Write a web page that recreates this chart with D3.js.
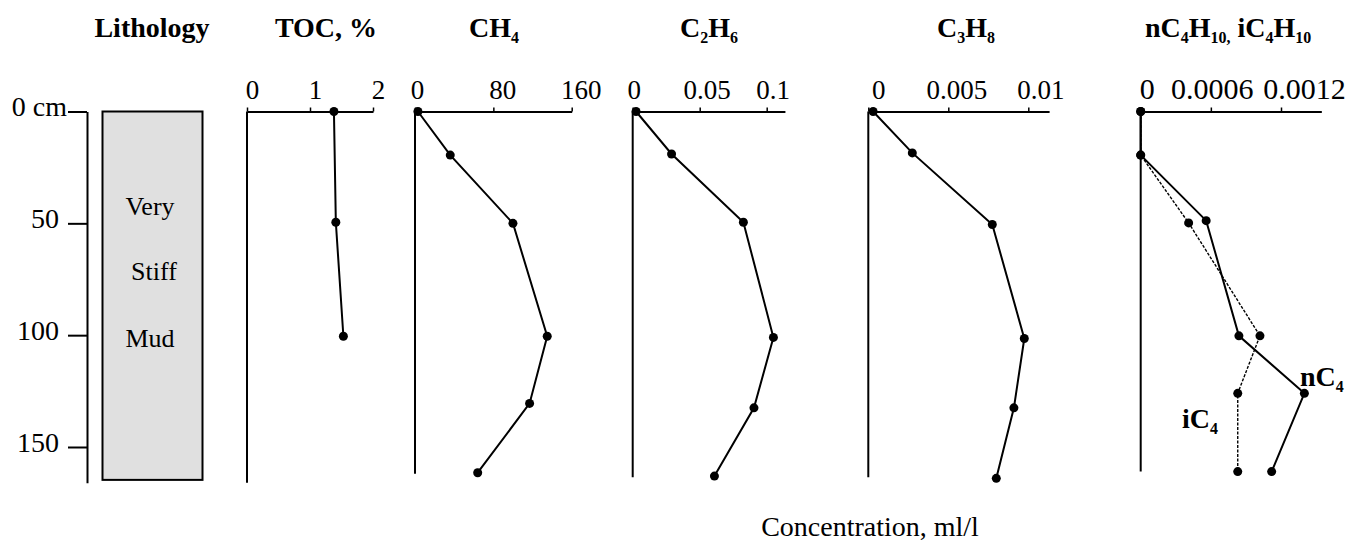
<!DOCTYPE html>
<html>
<head>
<meta charset="utf-8">
<script src="https://cdn.jsdelivr.net/npm/d3@7"></script>
<style>
  body { margin: 0; background: #fff; }
  svg { display: block; font-family: "Liberation Serif", "Times New Roman", serif; }
</style>
</head>
<body>
<div id="chart"></div>
<script>
/* valeurs : profondeur en cm, concentrations en ml/l */
const depth_ticks = [0, 50, 100, 150];

const toc_ticks = [0, 1, 2];
const toc_depth = [0, 49.5, 100.5];
const toc_value = [1.38, 1.41, 1.53];

const ch4_ticks = [0, 80, 160];
const ch4_depth = [0, 19.5, 50, 100.5, 130.5, 161.5];
const ch4_value = [3, 36, 100, 135, 117, 64];

const c2h6_ticks = [0, 0.05, 0.1];
const c2h6_depth = [0, 19, 49.5, 101, 132.5, 163];
const c2h6_value = [0.0025, 0.029, 0.0826, 0.105, 0.0905, 0.061];

const c3h8_ticks = [0, 0.005, 0.01];
const c3h8_depth = [0, 18.5, 50.5, 101.5, 132.5, 164];
const c3h8_value = [0.0003, 0.00275, 0.00775, 0.00975, 0.0091, 0.008];

const c4_ticks = [0, 0.0006, 0.0012];
const nc4_depth = [0, 19.5, 48.8, 100.3, 126, 161];
const nc4_value = [0, 0, 0.00056, 0.00084, 0.0014, 0.00112];
const ic4_depth = [0, 19.5, 49.8, 100.3, 126, 161];
const ic4_value = [0, 0, 0.00041, 0.00102, 0.00083, 0.00083];

/* lithologie : une seule couche */
const litho_top = 0;
const litho_bottom = 164.7;
const litho_words = ["Very", "Stiff", "Mud"];
const litho_word_depth = [46.3, 75.3, 105.3];

const width = 1346;
const height = 543;
const font_size = 28;

/* échelle verticale commune (profondeur) */
const y = d3.scaleLinear().domain([0, 150]).range([111.5, 447]);

const svg = d3.select("#chart").append("svg")
    .attr("width", width)
    .attr("height", height)
    .attr("viewBox", [0, 0, width, height]);

/* titre avec indices : [texte, indice?] */
function title(parent, x, yy, parts, size) {
  const t = parent.append("text")
      .attr("x", x)
      .attr("y", yy)
      .attr("text-anchor", "middle")
      .attr("font-weight", "bold")
      .attr("font-size", size);
  let down = false;
  parts.forEach(([txt, sub]) => {
    const dy = sub && !down ? 6 : (!sub && down ? -6 : 0);
    down = !!sub;
    t.append("tspan")
        .attr("dy", dy)
        .attr("font-size", sub ? size * 0.57 : size)
        .text(txt);
  });
  return t;
}

/* axe des profondeurs */
const depth_axis_scale = y.copy().domain([0, 166]).range([y(0), y(166)]);
const depth_axis = svg.append("g")
    .attr("transform", "translate(87,0)")
    .call(d3.axisLeft(depth_axis_scale)
      .tickValues(depth_ticks)
      .tickSize(19)
      .tickSizeOuter(0)
      .tickFormat(d => d === 0 ? "0 cm" : String(d)));
depth_axis.attr("font-family", null).attr("font-size", font_size);
depth_axis.select(".domain").attr("stroke-width", 2);
depth_axis.selectAll(".tick line").attr("stroke-width", 2);
depth_axis.selectAll(".tick text")
    .attr("x", d => d === 0 ? -20 : -28)
    .attr("dy", "0.15em")
    .attr("fill", "#000");

/* colonne lithologique */
svg.append("rect")
    .attr("x", 102.5)
    .attr("y", y(litho_top))
    .attr("width", 100)
    .attr("height", y(litho_bottom) - y(litho_top))
    .attr("fill", "#e0e0e0")
    .attr("stroke", "#000")
    .attr("stroke-width", 2);

svg.selectAll(".litho")
  .data(litho_words)
  .join("text")
    .attr("class", "litho")
    .attr("x", (d, i) => [150, 154, 150][i])
    .attr("y", (d, i) => y(litho_word_depth[i]))
    .attr("text-anchor", "middle")
    .attr("font-size", 26)
    .text(d => d);

title(svg, 152, 37, [["Lithology"]], font_size);

/* les cinq panneaux */
const panels = [
  { x0: 247, x1: 373, axis_end: 2, bottom: 166, ticks: toc_ticks, label_dx: [5, 5, 5], label_size: 27,
    title_x: 326, title: [["TOC, %"]],
    series: [{ depth: toc_depth, value: toc_value }] },
  { x0: 415, x1: 571.7, axis_end: 160, bottom: 162, ticks: ch4_ticks, label_dx: [2, 9, 9], label_size: 27,
    title_x: 494, title: [["CH"], ["4", true]],
    series: [{ depth: ch4_depth, value: ch4_value }] },
  { x0: 632.7, x1: 766.7, axis_end: 0.1136, bottom: 163.5, ticks: c2h6_ticks, label_dx: [1, 7, 6], label_size: 27,
    title_x: 709, title: [["C"], ["2", true], ["H"], ["6", true]],
    series: [{ depth: c2h6_depth, value: c2h6_value }] },
  { x0: 868.3, x1: 1028.3, axis_end: 0.0113, bottom: 163.5, ticks: c3h8_ticks, label_dx: [10, 8, 12], label_size: 27,
    title_x: 966, title: [["C"], ["3", true], ["H"], ["8", true]],
    series: [{ depth: c3h8_depth, value: c3h8_value }] },
  { x0: 1140.7, x1: 1281, axis_end: 0.001545, bottom: 161, ticks: c4_ticks, label_dx: [6, 1, 23], label_size: 30,
    title_x: 1228,
    title: [["nC"], ["4", true], ["H"], ["10,", true], [" iC"], ["4", true], ["H"], ["10", true]],
    series: [
      { depth: ic4_depth, value: ic4_value, dashed: true },
      { depth: nc4_depth, value: nc4_value }
    ] }
];

panels.forEach(p => {
  const x = d3.scaleLinear()
      .domain([0, p.ticks[p.ticks.length - 1]])
      .range([p.x0, p.x1]);
  const x_axis = x.copy().domain([0, p.axis_end]).range([p.x0, x(p.axis_end)]);

  const g = svg.append("g");

  g.append("line")
      .attr("x1", p.x0).attr("x2", p.x0)
      .attr("y1", y(0)).attr("y2", y(p.bottom))
      .attr("stroke", "#000")
      .attr("stroke-width", 2);

  const ax = g.append("g")
      .attr("transform", `translate(0,${y(0)})`)
      .call(d3.axisTop(x_axis)
        .tickValues(p.ticks)
        .tickSize(4)
        .tickSizeOuter(0)
        .tickFormat(d => String(d)));
  ax.attr("font-family", null).attr("font-size", p.label_size);
  ax.select(".domain").attr("stroke-width", 2);
  ax.selectAll(".tick line").attr("stroke-width", 1.5);
  ax.selectAll(".tick text")
      .attr("y", -13)
      .attr("dy", 0)
      .attr("dx", (d, i) => p.label_dx[i])
      .attr("fill", "#000");

  title(g, p.title_x, 37, p.title, font_size);

  p.series.forEach(s => {
    const pts = s.depth.map((d, i) => [s.value[i], d]);
    g.append("path")
        .datum(pts)
        .attr("d", d3.line().x(d => x(d[0])).y(d => y(d[1])))
        .attr("fill", "none")
        .attr("stroke", "#000")
        .attr("stroke-width", s.dashed ? 1.4 : 2)
        .attr("stroke-dasharray", s.dashed ? "3,1.5" : null);
    g.append("g")
      .selectAll("circle")
      .data(pts)
      .join("circle")
        .attr("cx", d => x(d[0]))
        .attr("cy", d => y(d[1]))
        .attr("r", 4.5)
        .attr("fill", "#000");
  });
});

/* étiquettes des butanes */
title(svg, 1300, 386, [["nC"], ["4", true]], 28).attr("text-anchor", "start");
title(svg, 1182, 428, [["iC"], ["4", true]], 28).attr("text-anchor", "start");

/* légende commune en bas */
svg.append("text")
    .attr("x", 870)
    .attr("y", 536)
    .attr("text-anchor", "middle")
    .attr("font-size", font_size)
    .text("Concentration, ml/l");
</script>
</body>
</html>
